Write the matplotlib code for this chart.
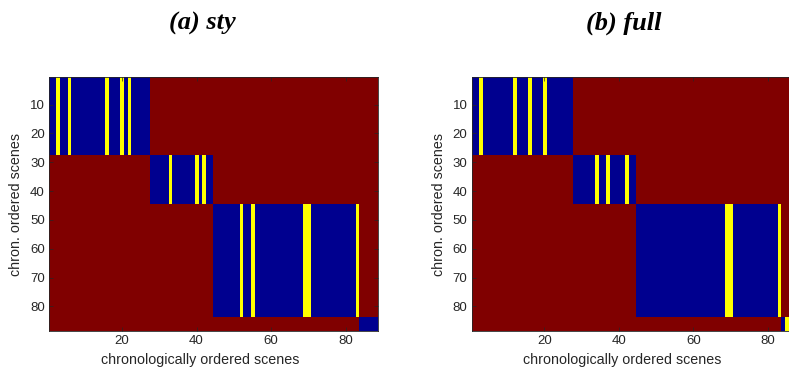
import numpy as np
import matplotlib
matplotlib.use('Agg')
import matplotlib.pyplot as plt
from matplotlib.colors import ListedColormap

plt.rcParams['font.family'] = ['Liberation Sans', 'DejaVu Sans']

n_scenes = 88
# last scene of each group (chronological order)
group_ends = [27, 44, 83, 88]
# scenes highlighted inside their group
yellow_sty = [3, 6, 16, 20, 22, 33, 40, 42, 52, 55, 69, 70, 83]
yellow_full = [3, 12, 16, 20, 34, 37, 42, 69, 70, 83, 85]
titles = ['(a) sty', '(b) full']

xticks = [20, 40, 60, 80]
yticks = [10, 20, 30, 40, 50, 60, 70, 80]

cmap = ListedColormap(['#00008f', '#ffff00', '#800000'])
txt = '#262626'


def build(yellow):
    grp = np.searchsorted(group_ends, np.arange(1, n_scenes + 1))
    m = np.where(grp[:, None] == grp[None, :], 0, 2)
    for c in yellow:
        same = grp == grp[c - 1]
        m[same, c - 1] = 1
    return m


fig = plt.figure(figsize=(7.89, 3.71), dpi=100)
positions = [[0.0621, 0.108, 0.4166, 0.684], [0.5978, 0.108, 0.4155, 0.684]]
title_x = [0.256, 0.791]

for pos, yellow, title, tx in zip(positions, [yellow_sty, yellow_full], titles, title_x):
    ax = fig.add_axes(pos)
    ax.imshow(build(yellow), cmap=cmap, vmin=0, vmax=2, aspect='auto',
              interpolation='nearest', extent=(0.5, n_scenes + 0.5, n_scenes + 0.5, 0.5))
    ax.set_xticks(xticks)
    ax.set_yticks(yticks)
    ax.tick_params(direction='in', top=True, right=True, length=3, width=0.5,
                   labelsize=9.5, colors=txt, pad=3)
    for s in ax.spines.values():
        s.set_color(txt)
        s.set_linewidth(0.6)
    ax.set_xlabel('chronologically ordered scenes', fontsize=10.3, color=txt)
    ax.set_ylabel('chron. ordered scenes', fontsize=10.3, color=txt)
    ax.xaxis.set_label_coords(0.46, -0.085)
    ax.yaxis.set_label_coords(-0.078, 0.5)
    fig.text(tx, 0.937, title, ha='center', va='center', fontsize=19,
             family='Liberation Serif', style='italic', weight='bold', color='black')

plt.savefig('out.png', dpi=100)
